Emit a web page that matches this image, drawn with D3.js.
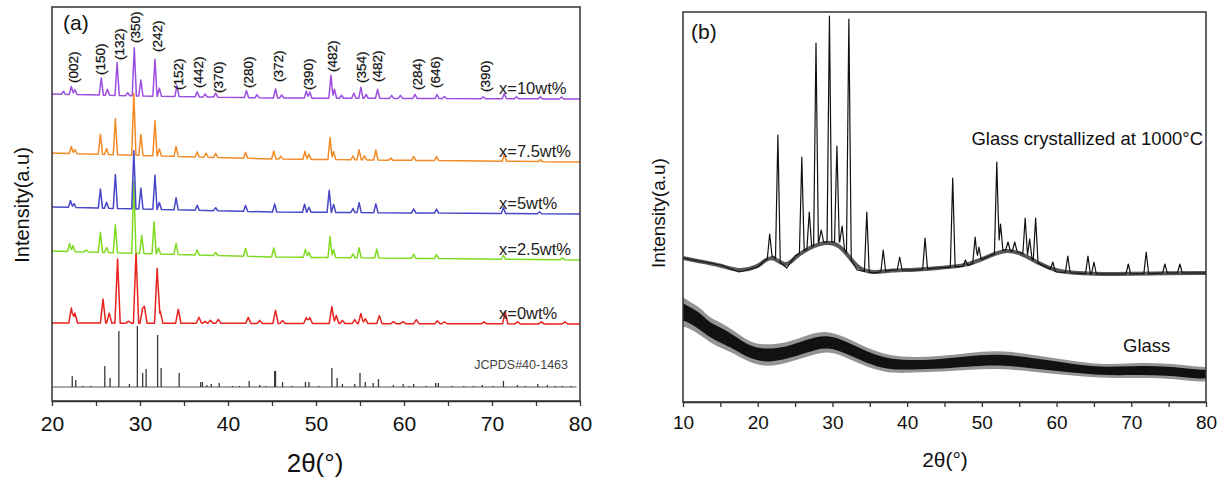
<!DOCTYPE html>
<html>
<head>
<meta charset="utf-8">
<script src="https://cdn.jsdelivr.net/npm/d3@7"></script>
<style>
  body { margin: 0; background: #fff; }
  svg { display: block; }
  text { font-family: Arial, "Liberation Sans", sans-serif; fill: #111; }
</style>
</head>
<body>
<div id="chart"></div>
<script>
// ---------------- panel (a) data ----------------
// series names, top to bottom
const seriesNames = ["x=10wt%", "x=7.5wt%", "x=5wt%", "x=2.5wt%", "x=0wt%"];

// baselines of each offset pattern: [2theta, intensity]
const base10 = [[20, 307], [30, 305], [45, 303], [80, 302]];
const base75 = [[20, 248], [45, 242], [80, 239]];
const base5 = [[20, 194], [45, 189], [80, 187]];
const base25 = [[20, 150], [45, 144], [80, 141]];
const base0 = [[20, 78], [80, 77]];

// peaks: [2theta, height above baseline]
const peaks10 = [[21.3, 3], [22.2, 8], [22.6, 5], [25.6, 17], [26.3, 6], [27.4, 33], [28.6, 3], [29.35, 48], [30.1, 16],
  [31.7, 37], [32.2, 8], [34.2, 11], [36.5, 5], [37.4, 3], [38.6, 4], [42.1, 7], [43.3, 3], [45.4, 9], [46.1, 3],
  [48.9, 7], [49.3, 6], [51.7, 23], [52.1, 9], [52.9, 3], [54.3, 5], [55.1, 11], [55.7, 4], [57.0, 9], [58.6, 3],
  [59.6, 3], [61.25, 4], [63.75, 4], [64.6, 2], [69.0, 2], [71.4, 5], [72.8, 2], [75.5, 2], [77.9, 2]];
const peaks75 = [[22.2, 7], [22.6, 4], [25.5, 20], [26.2, 6], [27.2, 36], [29.3, 62], [30.1, 21], [31.7, 35], [32.2, 7],
  [34.1, 10], [36.5, 5], [37.5, 4], [38.6, 4], [42.0, 6], [45.2, 8], [46.0, 3], [48.75, 8], [49.2, 5], [51.6, 22],
  [52.0, 8], [54.2, 4], [54.9, 10], [55.5, 4], [56.8, 10], [58.5, 2], [61.1, 4], [63.7, 4], [71.4, 7], [75.5, 2]];
const peaks5 = [[22.1, 7], [22.5, 4], [25.5, 19], [26.2, 6], [27.2, 34], [29.3, 58], [30.1, 21], [31.7, 34], [32.2, 7],
  [34.1, 12], [36.5, 5], [38.6, 3], [42.0, 6], [45.3, 8], [48.7, 8], [49.2, 5], [51.5, 22], [52.0, 8], [54.2, 4],
  [54.9, 10], [56.8, 9], [61.1, 4], [63.7, 4], [71.3, 6], [75.4, 2]];
const peaks25 = [[22.0, 8], [22.4, 6], [23.9, 2], [25.5, 20], [26.2, 5], [27.2, 28], [29.3, 72], [30.2, 18], [31.6, 32],
  [32.1, 6], [34.1, 11], [36.5, 5], [38.6, 3], [42.0, 8], [45.2, 9], [48.8, 8], [49.2, 5], [51.6, 21], [52.0, 8],
  [54.2, 4], [54.9, 10], [56.9, 9], [61.1, 4], [63.7, 4], [71.3, 4], [78.0, 2]];
const peaks0 = [[22.2, 15], [22.6, 10], [25.8, 24], [26.5, 10], [27.45, 64], [28.7, 2], [29.55, 71], [30.3, 15],
  [30.5, 17], [31.95, 55], [32.3, 12], [34.35, 14], [36.7, 6], [37.4, 2], [38.0, 3], [38.9, 4], [42.3, 6], [43.6, 3],
  [45.4, 13], [46.2, 3], [48.9, 6], [49.3, 6], [51.8, 17], [52.3, 8], [53.0, 3], [54.4, 4], [55.1, 10], [55.6, 5],
  [57.2, 8], [58.8, 2], [59.9, 2], [61.4, 4], [63.8, 3], [64.6, 2], [69.1, 2], [71.5, 12], [72.9, 2], [75.6, 2], [78.3, 2]];

// JCPDS#40-1463 reference sticks: [2theta, height]
const stickBase = 14;
const sticks = [[22.3, 11], [22.7, 7], [23.5, 1], [24.4, 1], [26.0, 21], [26.6, 9], [27.6, 56], [28.8, 3], [29.7, 61],
  [30.3, 14], [30.7, 18], [32.0, 52], [32.4, 19], [34.45, 14], [36.9, 5], [37.1, 5], [37.6, 2], [38.1, 3], [39.0, 4],
  [40.5, 1], [41.3, 1], [42.4, 6], [43.6, 2], [44.3, 1], [45.3, 16], [45.4, 16], [46.2, 5], [47.3, 1], [48.8, 5],
  [49.2, 5], [50.3, 1], [51.8, 19], [52.4, 9], [53.0, 3], [54.4, 3], [55.0, 14], [55.6, 5], [56.5, 4], [57.1, 8],
  [58.8, 2], [59.9, 3], [60.6, 1], [61.1, 3], [62.5, 1], [63.6, 4], [63.9, 4], [65.5, 1], [66.8, 1], [67.9, 1],
  [68.9, 2], [70.1, 1], [71.3, 6], [72.9, 2], [73.8, 1], [75.2, 3], [76.3, 2], [77.2, 1], [78.0, 1], [79.0, 1]];

// hkl labels: [2theta, intensity where the label starts]
const hklNames = ["(002)", "(150)", "(132)", "(350)", "(242)", "(152)", "(442)", "(370)", "(280)", "(372)",
  "(390)", "(482)", "(354)", "(482)", "(284)", "(646)", "(390)"];
const hklPos = [[22.4, 318], [25.5, 326], [27.6, 341], [29.5, 358], [32.0, 349], [34.4, 311], [36.6, 313],
  [38.9, 308], [42.3, 313], [45.7, 319], [49.1, 311], [51.9, 329], [55.1, 318], [57.0, 319], [61.5, 311],
  [63.6, 313], [69.2, 309]];

const ticksA = [20, 30, 40, 50, 60, 70, 80];

// ---------------- panel (b) data ----------------
const crystalName = "Glass crystallized at 1000°C";
const glassName = "Glass";
const crystalBase = [[10, 144], [12, 141], [15, 137], [17.5, 130], [20, 135], [21, 142], [22, 146], [23.9, 134],
  [25, 146], [28.3, 160], [31, 160], [33.3, 132], [35.5, 129], [38, 132], [41, 132], [44, 134], [48, 136], [51, 146],
  [53, 152], [55, 150], [57.8, 138], [60, 130], [65, 128], [70, 128], [75, 129], [80, 129]];
// crystallized peaks: [2theta, peak top]
const crystalPeaks = [[21.6, 168], [22.7, 267], [25.9, 245], [26.9, 190], [27.8, 359], [28.5, 172], [29.6, 386],
  [30.6, 256], [31.3, 176], [32.2, 383], [34.6, 190], [36.8, 152], [39.0, 145], [42.4, 164], [46.1, 224], [47.8, 142],
  [49.1, 165], [49.6, 155], [52.0, 240], [52.5, 178], [53.5, 160], [54.4, 160], [55.8, 184], [56.4, 163], [57.2, 184],
  [59.5, 140], [61.5, 146], [64.2, 146], [65.0, 140], [69.6, 138], [72.0, 150], [74.5, 138], [76.5, 138]];
// amorphous glass: [2theta, lower, upper] of the noisy band
const glassBand = [[10, 75, 105], [10.5, 75, 102], [12.3, 67, 95], [13.5, 60, 84], [15, 54, 80], [16.7, 49, 72],
  [19, 39, 59], [21.2, 35, 57], [23.9, 39, 59], [26.6, 45, 67], [29.3, 52, 72], [32, 44, 64], [34.6, 35, 54],
  [37.3, 29, 47], [40, 29, 45], [43.5, 30, 45], [48, 32, 49], [52.4, 34, 52], [56.9, 30, 47], [61.4, 27, 42],
  [65.8, 24, 37], [70.2, 24, 39], [74.8, 24, 39], [79.2, 20, 35], [80, 21, 35]];

const ticksB = [10, 20, 30, 40, 50, 60, 70, 80];

// ---------------- styles ----------------
const colorsA = ["#9b4fe0", "#f28a26", "#4747c8", "#7fdb22", "#e8221e"];

// ---------------- helpers ----------------
// build the pattern outline from its baseline knots and its peak list
function profile(baseKnots, peaks, w, absolute) {
  const bg = d3.scaleLinear().domain(baseKnots.map(d => d[0])).range(baseKnots.map(d => d[1]));
  const hs = peaks.map(p => [p[0], absolute ? p[1] - bg(p[0]) : p[1]]);
  const lo = baseKnots[0][0], hi = baseKnots[baseKnots.length - 1][0];
  const xs = baseKnots.map(d => d[0]);
  hs.forEach(p => xs.push(p[0] - w, p[0], p[0] + w));
  return xs.filter(x => x >= lo && x <= hi).sort((m, n) => m - n).map(x => {
    let add = 0;
    hs.forEach(p => {
      const t = 1 - Math.abs(x - p[0]) / w;
      if (t > 0) add = Math.max(add, p[1] * t);
    });
    return [x, bg(x) + add];
  });
}

function frame(g, box) {
  g.append("rect")
    .attr("x", box.left).attr("y", box.top)
    .attr("width", box.right - box.left).attr("height", box.bottom - box.top)
    .attr("fill", "none").attr("stroke", "#333").attr("stroke-width", 1.5);
}

function bottomAxis(g, x, box, labels, fontSize, pad) {
  const [d0, d1] = x.domain();
  const ax = g.append("g")
    .attr("transform", `translate(0, ${box.bottom})`)
    .call(d3.axisBottom(x)
      .tickValues(d3.range(d0, d1 + 1, 5))
      .tickSize(5)
      .tickSizeOuter(0)
      .tickPadding(pad)
      .tickFormat(d => labels.includes(d) ? d : ""));
  ax.select(".domain").attr("stroke", "#333").attr("stroke-width", 1.5);
  ax.selectAll(".tick line").attr("stroke", "#333").attr("stroke-width", 1.3);
  ax.selectAll("text").attr("font-size", fontSize).attr("fill", "#111")
    .attr("font-family", "Arial, 'Liberation Sans', sans-serif");
}

const svg = d3.select("#chart").append("svg")
  .attr("width", 1223).attr("height", 486);

// ---------------- panel (a) ----------------
const boxA = { left: 52, top: 7, right: 580, bottom: 401 };
const xA = d3.scaleLinear().domain([20, 80]).range([boxA.left, boxA.right]);
const yA = d3.scaleLinear().domain([0, 394]).range([boxA.bottom, boxA.top]);
const gA = svg.append("g");

const lineA = d3.line().x(d => xA(d[0])).y(d => yA(d[1]));

// sticks
gA.append("line")
  .attr("x1", xA(20)).attr("x2", xA(79.6))
  .attr("y1", yA(stickBase)).attr("y2", yA(stickBase))
  .attr("stroke", "#555").attr("stroke-width", 1);
gA.selectAll(".stick")
  .data(sticks)
  .join("line")
  .attr("class", "stick")
  .attr("x1", d => xA(d[0])).attr("x2", d => xA(d[0]))
  .attr("y1", yA(stickBase)).attr("y2", d => yA(stickBase + d[1]))
  .attr("stroke", "#3a3a3a").attr("stroke-width", 1.3);
gA.append("text")
  .attr("x", 568).attr("y", 369)
  .attr("text-anchor", "end")
  .attr("font-family", "'Liberation Serif', 'Times New Roman', serif")
  .attr("font-size", 12.5)
  .style("fill", "#444")
  .text("JCPDS#40-1463");

const seriesA = [
  { name: seriesNames[0], base: base10, peaks: peaks10, w: 0.24 },
  { name: seriesNames[1], base: base75, peaks: peaks75, w: 0.24 },
  { name: seriesNames[2], base: base5, peaks: peaks5, w: 0.24 },
  { name: seriesNames[3], base: base25, peaks: peaks25, w: 0.24 },
  { name: seriesNames[4], base: base0, peaks: peaks0, w: 0.3 }
];

seriesA.slice().reverse().forEach((s, i) => {
  gA.append("path")
    .datum(profile(s.base, s.peaks, s.w, false))
    .attr("d", lineA)
    .attr("fill", "none")
    .attr("stroke", colorsA[seriesA.length - 1 - i])
    .attr("stroke-width", 1.5)
    .attr("stroke-linejoin", "round");
});

seriesA.forEach(s => {
  const end = s.base[s.base.length - 1][1];
  gA.append("text")
    .attr("x", xA(70.8)).attr("y", yA(end) - 5)
    .attr("font-size", 16.5)
    .style("fill", "#222")
    .text(s.name);
});

// hkl labels
gA.selectAll(".hkl")
  .data(hklPos)
  .join("text")
  .attr("class", "hkl")
  .attr("transform", d => `translate(${xA(d[0])}, ${yA(d[1])}) rotate(-90)`)
  .attr("dy", "0.35em")
  .attr("font-size", 13.5)
  .attr("stroke", "#111").attr("stroke-width", 0.25)
  .text((d, i) => hklNames[i]);

frame(gA, boxA);
bottomAxis(gA, xA, boxA, ticksA, 21, 10);

gA.append("text")
  .attr("x", 63).attr("y", 30)
  .attr("font-family", "'Liberation Serif', 'Times New Roman', serif")
  .attr("font-size", 21)
  .text("(a)");
gA.append("text")
  .attr("x", 315).attr("y", 472)
  .attr("text-anchor", "middle")
  .attr("font-size", 26)
  .text("2θ(°)");
gA.append("text")
  .attr("transform", "translate(22, 205) rotate(-90)")
  .attr("text-anchor", "middle")
  .attr("dy", "0.35em")
  .attr("font-size", 20)
  .text("Intensity(a.u)");

// ---------------- panel (b) ----------------
const boxB = { left: 683, top: 12, right: 1206, bottom: 402 };
const xB = d3.scaleLinear().domain([10, 80]).range([boxB.left, boxB.right]);
const yB = d3.scaleLinear().domain([0, 390]).range([boxB.bottom, boxB.top]);
const gB = svg.append("g");
const lineB = d3.line().x(d => xB(d[0])).y(d => yB(d[1]));

// glass: noisy amorphous band
gB.append("path")
  .datum(glassBand)
  .attr("d", d3.area().curve(d3.curveBasis).x(d => xB(d[0])).y0(d => yB(d[1])).y1(d => yB(d[2])))
  .attr("fill", "#666").attr("opacity", 0.7);
gB.append("path")
  .datum(glassBand)
  .attr("d", d3.area().curve(d3.curveBasis).x(d => xB(d[0]))
    .y0(d => yB(d[1] + (d[2] - d[1]) * 0.2))
    .y1(d => yB(d[2] - (d[2] - d[1]) * 0.2)))
  .attr("fill", "#111");

// crystallized glass
gB.append("path")
  .datum(crystalBase)
  .attr("d", d3.line().curve(d3.curveBasis).x(d => xB(d[0])).y(d => yB(d[1])))
  .attr("fill", "none").attr("stroke", "#111")
  .attr("stroke-width", 4).attr("opacity", 0.7)
  .attr("stroke-linejoin", "round");
gB.append("path")
  .datum(profile(crystalBase, crystalPeaks, 0.32, true))
  .attr("d", lineB)
  .attr("fill", "none").attr("stroke", "#111")
  .attr("stroke-width", 1.2)
  .attr("stroke-linejoin", "round");

gB.append("text")
  .attr("x", 1203).attr("y", 145)
  .attr("text-anchor", "end")
  .attr("font-size", 18.5)
  .text(crystalName);
gB.append("text")
  .attr("x", 1123).attr("y", 352)
  .attr("font-size", 18.5)
  .text(glassName);

frame(gB, boxB);
bottomAxis(gB, xB, boxB, ticksB, 19, 9);

gB.append("text")
  .attr("x", 691).attr("y", 39)
  .attr("font-family", "'Liberation Serif', 'Times New Roman', serif")
  .attr("font-size", 21)
  .text("(b)");
gB.append("text")
  .attr("x", 945).attr("y", 467)
  .attr("text-anchor", "middle")
  .attr("font-size", 21)
  .text("2θ(°)");
gB.append("text")
  .attr("transform", "translate(658, 213) rotate(-90)")
  .attr("text-anchor", "middle")
  .attr("dy", "0.35em")
  .attr("font-size", 19)
  .text("Intensity(a.u)");
</script>
</body>
</html>
